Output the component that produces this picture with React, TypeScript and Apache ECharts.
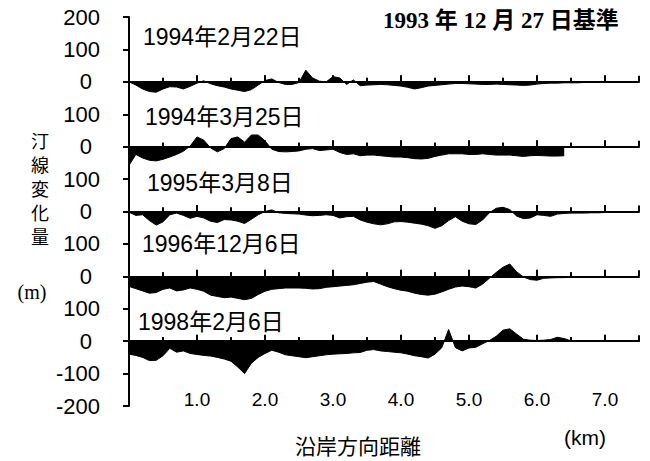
import React, { useEffect, useRef } from "react";
import * as echarts from "echarts";

// Distance along the coast (km)
const DIST = [
  0.0, 0.1, 0.2, 0.3, 0.4, 0.5, 0.6, 0.7, 0.8, 0.9,
  1.0, 1.1, 1.2, 1.3, 1.4, 1.5, 1.6, 1.7, 1.8, 1.9,
  2.0, 2.1, 2.2, 2.3, 2.4, 2.5, 2.6, 2.7, 2.8, 2.9,
  3.0, 3.1, 3.2, 3.3, 3.4, 3.5, 3.6, 3.7, 3.8, 3.9,
  4.0, 4.1, 4.2, 4.3, 4.4, 4.5, 4.6, 4.7, 4.8, 4.9,
  5.0, 5.1, 5.2, 5.3, 5.4, 5.5, 5.6, 5.7, 5.8, 5.9,
  6.0, 6.1, 6.2, 6.3, 6.4, 6.5, 6.6, 6.7, 6.8, 6.9,
  7.0, 7.1, 7.2, 7.3, 7.4, 7.5,
];

// Shoreline change (m) relative to 1993-12-27
const S_1994_02_22 = [
  0, -10, -22, -30, -32, -22, -15, -16, -22, -14,
  -4, 3, -6, -12, -16, -22, -26, -30, -24, -10,
  4, 9, -2, -8, -8, -2, 36, 12, 2, 0,
  16, 12, -8, 6, -12, -10, -9, -8, -9, -11,
  -13, -17, -22, -18, -13, -11, -9, -7, -5, -5,
  -6, -7, -8, -8, -7, -8, -9, -10, -11, -10,
  -7, -5, -4, -4, -3, -3, -3, -2, -2, -2,
  -2, -1, -1, -1, -1, 0,
];
const S_1994_03_25 = [
  -58, -24, -35, -42, -44, -39, -32, -24, -14, 2,
  30, 20, -4, -16, -6, 25, 30, 14, 36, 36,
  18, -8, -15, -16, -15, -13, -8, -6, -12, -10,
  -8, -18, -24, -22, -28, -26, -26, -28, -30, -32,
  -32, -34, -37, -38, -36, -30, -26, -22, -22, -22,
  -24, -24, -22, -24, -26, -26, -26, -28, -30, -28,
  -27, -28, -29, -29, -28, null, null, null, null, null,
  null, null, null, null, null, null,
];
const S_1995_03_08 = [
  -2, -12, -10, -28, -42, -32, -10, -5, -12, -21,
  -15, -20, -30, -34, -25, -26, -30, -37, -24, -10,
  0, 5, -4, -6, -7, -8, -11, -13, -12, -10,
  -12, -20, -16, -15, -26, -33, -38, -41, -38, -32,
  -31, -33, -36, -39, -44, -52, -44, -28, -16, -30,
  -38, -40, -26, -4, 10, 13, 6, -14, -22, -20,
  -10, -12, -15, -8, -6, -5, -5, -5, -4, -4,
  -3, -3, -3, -2, -1, 0,
];
const S_1996_12_06 = [
  -31, -38, -45, -52, -50, -40, -36, -45, -42, -36,
  -40, -46, -58, -62, -66, -64, -68, -72, -68, -56,
  -46, -40, -38, -36, -36, -36, -37, -39, -38, -34,
  -32, -30, -28, -26, -22, -18, -16, -24, -32, -38,
  -43, -46, -52, -56, -58, -55, -48, -40, -33, -30,
  -32, -36, -24, -6, 12, 28, 38, 14, -2, -10,
  -12, -6, -5, -4, -4, -3, -3, -3, -2, -2,
  -2, -2, -1, -1, -1, 0,
];
const S_1998_02_06 = [
  -40, -44, -50, -60, -59, -45, -22, -34, -30, -38,
  -41, -44, -46, -50, -55, -62, -80, -100, -68, -50,
  -38, -28, -34, -42, -45, -48, -51, -48, -45, -42,
  -40, -39, -38, -36, -35, -28, -26, -30, -32, -34,
  -36, -40, -45, -48, -52, -40, -20, 36, -20, -30,
  -21, -19, -8, 2, 15, 34, 38, 22, 6, 3,
  2, 3, 5, 12, 8, 1, 0, 0, 0, 0,
  0, 0, 0, 0, 0, 0,
];

const PANEL_SERIES = [S_1994_02_22, S_1994_03_25, S_1995_03_08, S_1996_12_06, S_1998_02_06];
const PANEL_DATES = ["1994年2月22日", "1994年3月25日", "1995年3月8日", "1996年12月6日", "1998年2月6日"];
// Where each panel's zero sits on the stacked (virtual) vertical scale
const PANEL_ZERO = [800, 600, 400, 200, 0];
const V_MIN = -200;
const V_MAX = 1000;

const Y_TICK_VALUES = [-200, -100, 0, 100, 200, 300, 400, 500, 600, 700, 800, 900, 1000];
const Y_TICK_LABELS = ["-200", "-100", "0", "100", "0", "100", "0", "100", "0", "100", "0", "100", "200"];
const X_TICK_VALUES = [0, 1, 2, 3, 4, 5, 6, 7];
const X_TICK_LABELS = ["", "1.0", "2.0", "3.0", "4.0", "5.0", "6.0", "7.0"];
// Tick marks standing on every panel's zero line (km)
const MAJOR_TICKS = [1, 2, 3, 4, 5, 6, 7];
const MINOR_TICKS = [0.5, 1.5, 2.5, 3.5, 4.5, 5.5, 6.5, 7.5];

const BASE_TITLE = "1993 年 12 月 27 日基準";
const Y_TITLE = "汀\n線\n変\n化\n量";
const Y_UNIT = "(m)";
const X_TITLE = "沿岸方向距離";
const X_UNIT = "(km)";

const CJK = "'Noto Sans CJK JP', 'Noto Sans CJK SC', sans-serif";
const SANS = "'Liberation Sans', Arial, 'Noto Sans CJK JP', sans-serif";

const W = 650;
const H = 461;
const GRID = { left: 129, right: 11, top: 17, bottom: 55 };

// Panel title anchor positions (left, vertical centre)
const TITLE_POS = [
  [143, 37],
  [145, 117],
  [147, 183],
  [142, 244],
  [138, 322],
];

export default function App() {
  const ref = useRef<HTMLDivElement>(null);

  useEffect(() => {
    if (!ref.current) return;
    const chart = echarts.init(ref.current, undefined, { renderer: "svg" });
    const gridH = H - GRID.top - GRID.bottom;
    const pxPerUnit = gridH / (V_MAX - V_MIN);

    const xAxes: any[] = [
      { type: "value", min: 0, max: 7.5, show: false, gridIndex: 0 },
    ];
    // Zero line of each panel: a bottom axis lifted to the panel's zero, ticks pointing up
    PANEL_ZERO.forEach((z) => {
      xAxes.push({
        type: "value",
        gridIndex: 0,
        position: "bottom",
        offset: -(z - V_MIN) * pxPerUnit,
        min: 0,
        max: 7.5,
        interval: 1,
        axisLine: { show: true, onZero: false, lineStyle: { color: "#000", width: 2 } },
        axisTick: { show: true, inside: true, length: 6, lineStyle: { color: "#000", width: 2 } },
        minorTick: { show: true, splitNumber: 2, length: 4, lineStyle: { color: "#000", width: 2 } },
        axisLabel: { show: false },
        splitLine: { show: false },
        minorSplitLine: { show: false },
      });
    });
    // Distance labels (no line, no ticks), sitting just above the grid bottom
    xAxes.push({
      type: "value",
      gridIndex: 0,
      position: "bottom",
      min: 0,
      max: 7.5,
      interval: 1,
      axisLine: { show: false, onZero: false },
      axisTick: { show: false },
      splitLine: { show: false },
      axisLabel: {
        show: true,
        margin: -16,
        verticalAlign: "top",
        color: "#000",
        fontSize: 19,
        fontFamily: SANS,
        customValues: X_TICK_VALUES,
        formatter: (v: number) => {
          const k = X_TICK_VALUES.indexOf(Math.round(v * 10) / 10);
          return k >= 0 ? X_TICK_LABELS[k] : "";
        },
      },
    });

    const yAxes: any[] = [
      {
        type: "value",
        gridIndex: 0,
        position: "left",
        min: V_MIN,
        max: V_MAX,
        interval: 100,
        axisLine: { show: true, onZero: false, lineStyle: { color: "#000", width: 2 } },
        axisTick: { show: true, length: 6, lineStyle: { color: "#000", width: 2 } },
        splitLine: { show: false },
        axisLabel: {
          margin: 29,
          color: "#000",
          fontSize: 22,
          fontFamily: SANS,
          align: "right",
          formatter: (v: number) => {
            const k = Y_TICK_VALUES.indexOf(v);
            const lab = k >= 0 ? Y_TICK_LABELS[k] : "";
            return lab === "0" ? "{z|0}" : lab;
          },
          rich: {
            z: { fontSize: 22, fontFamily: SANS, color: "#000", padding: [0, 8, 0, 0] },
          },
        },
      },
    ];
    PANEL_ZERO.forEach((z) => {
      yAxes.push({
        type: "value",
        gridIndex: 0,
        show: false,
        min: V_MIN - z,
        max: V_MAX - z,
        splitLine: { show: false },
      });
    });

    // Tick marks also as short vertical mark lines in data units (m) above zero
    const tickLines = [
      ...MAJOR_TICKS.map((t) => [{ coord: [t, 0] }, { coord: [t, 20] }]),
      ...MINOR_TICKS.map((t) => [{ coord: [t, 0] }, { coord: [t, 12] }]),
    ];

    const series: any[] = PANEL_SERIES.map((vals, i) => ({
      type: "line",
      name: PANEL_DATES[i],
      xAxisIndex: 0,
      yAxisIndex: i + 1,
      data: DIST.map((d, j) => [d, vals[j]]),
      symbol: "none",
      showSymbol: false,
      connectNulls: false,
      silent: true,
      lineStyle: { color: "#000", width: 1 },
      areaStyle: { color: "#000", opacity: 1 },
      z: 3,
      markLine: {
        silent: true,
        symbol: ["none", "none"],
        label: { show: false },
        lineStyle: { color: "#000", width: 2, type: "solid" },
        data: tickLines,
      },
    }));

    const graphic: any[] = PANEL_DATES.map((t, i) => ({
      type: "text",
      x: TITLE_POS[i][0],
      y: TITLE_POS[i][1],
      style: {
        text: t,
        fill: "#000",
        fontSize: 23,
        fontFamily: SANS,
        align: "left",
        verticalAlign: "middle",
      },
    }));
    graphic.push(
      {
        type: "text",
        x: 383,
        y: 20,
        style: {
          text: BASE_TITLE,
          fill: "#000",
          fontSize: 23,
          fontWeight: "bold",
          fontFamily: "'Liberation Serif', 'Noto Sans CJK JP', serif",
          align: "left",
          verticalAlign: "middle",
        },
      },
      {
        type: "text",
        x: 40,
        y: 188,
        style: {
          text: Y_TITLE,
          fill: "#000",
          fontSize: 18,
          lineHeight: 24,
          fontFamily: CJK,
          align: "center",
          verticalAlign: "middle",
        },
      },
      {
        type: "text",
        x: 32,
        y: 292,
        style: {
          text: Y_UNIT,
          fill: "#000",
          fontSize: 20,
          fontFamily: "'Liberation Serif', serif",
          align: "center",
          verticalAlign: "middle",
        },
      },
      {
        type: "text",
        x: 358,
        y: 445,
        style: {
          text: X_TITLE,
          fill: "#000",
          fontSize: 21,
          fontFamily: CJK,
          align: "center",
          verticalAlign: "middle",
        },
      },
      {
        type: "text",
        x: 585,
        y: 437,
        style: {
          text: X_UNIT,
          fill: "#000",
          fontSize: 21,
          fontFamily: SANS,
          align: "center",
          verticalAlign: "middle",
        },
      }
    );

    chart.setOption({
      animation: false,
      backgroundColor: "#fff",
      grid: { ...GRID, containLabel: false, outerBoundsMode: "none" },
      xAxis: xAxes,
      yAxis: yAxes,
      series,
      graphic,
    });

    return () => {
      chart.dispose();
    };
  }, []);

  return (
    <div
      ref={ref}
      style={{ position: "fixed", left: 0, top: 0, width: W, height: H, background: "#fff" }}
    />
  );
}
